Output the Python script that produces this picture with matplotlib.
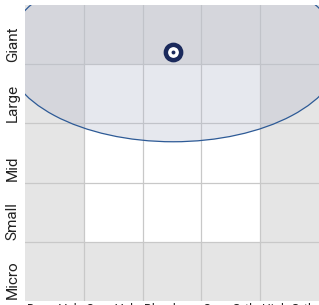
import matplotlib.pyplot as plt
import numpy as np
from matplotlib.colors import ListedColormap
from matplotlib.patches import Ellipse
from matplotlib.transforms import blended_transform_factory

plt.rcParams['font.family'] = ['Liberation Sans Narrow', 'Roboto', 'DejaVu Sans']

# Style box categories
styles = ["Deep Val", "Core Val", "Blend", "Core Grth", "High Grth"]
sizes = ["Micro", "Small", "Mid", "Large", "Giant"]

# 1 = outer zone (gray), 0 = core zone (white); rows bottom (Micro) to top (Giant)
zones = np.array([
    [1, 1, 1, 1, 1],
    [1, 0, 0, 0, 1],
    [1, 0, 0, 0, 1],
    [1, 0, 0, 0, 1],
    [1, 1, 1, 1, 1],
])

# ownership zone and centroid (in style/size units)
centroid_x = 2.52
centroid_y = 4.2
zone_width = 5.71
zone_height = 3.02

fig = plt.figure(figsize=(3.19, 3.05), dpi=100)
ax = fig.add_axes([25 / 319, 4 / 305, 294 / 319, 296 / 305])

ax.pcolormesh(np.arange(6), np.arange(6), zones,
              cmap=ListedColormap(["#ffffff", "#e5e5e5"]), vmin=0, vmax=1)
for v in range(1, 5):
    ax.axvline(v, color="#c8c8c8", lw=0.9, zorder=1)
    ax.axhline(v, color="#c8c8c8", lw=0.9, zorder=1)

zone = Ellipse((centroid_x, centroid_y), zone_width, zone_height,
               facecolor="#b4b9cc", alpha=0.32, edgecolor="none", zorder=2)
ax.add_patch(zone)
ax.add_patch(Ellipse((centroid_x, centroid_y), zone_width, zone_height,
                     facecolor="none", edgecolor="#2d5a96", lw=0.9, zorder=3))

ax.plot([centroid_x], [centroid_y], marker="o", ms=11, mfc="white", mec="#1b2a5c",
        mew=3.2, zorder=5)
ax.plot([centroid_x], [centroid_y], marker="o", ms=2.8, mfc="#1b2a5c", mec="#1b2a5c",
        mew=0, zorder=6)

ax.set_xlim(0, 5)
ax.set_ylim(0, 5)
ax.set_xticks([])
ax.set_yticks([])
for s in ax.spines.values():
    s.set_visible(False)

ty = blended_transform_factory(ax.transAxes, ax.transData)
for i, lab in enumerate(sizes):
    ax.text(-0.042, i + 0.03, lab, rotation=90, ha="center", va="bottom",
            fontsize=11, color="#222222", transform=ty)

tx = blended_transform_factory(ax.transData, ax.transAxes)
for i, lab in enumerate(styles):
    ax.text(i + 0.03, -0.008, lab, ha="left", va="top",
            fontsize=9, color="#222222", transform=tx)

fig.savefig("out.png", dpi=100)
